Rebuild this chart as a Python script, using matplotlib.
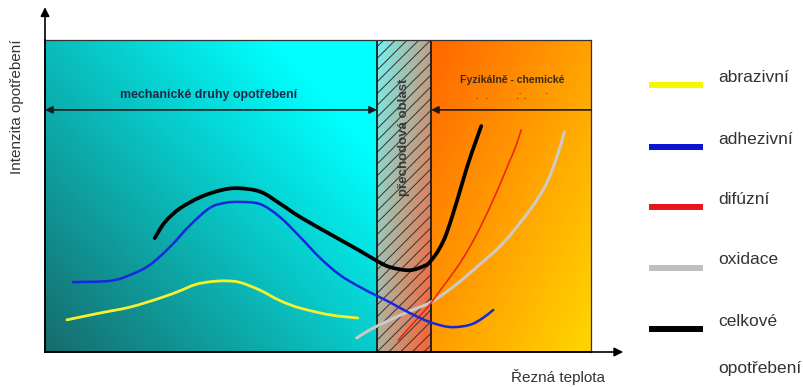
import numpy as np
import matplotlib
matplotlib.use("Agg")
import matplotlib.pyplot as plt
from matplotlib.colors import LinearSegmentedColormap
from matplotlib.patches import Rectangle, PathPatch
from matplotlib.path import Path
from matplotlib.lines import Line2D

plt.rcParams['font.family'] = ['Liberation Sans', 'DejaVu Sans']

# Temperature axis runs 0..100 over the panel, wear intensity 0..100
zone_mech_end = 60.8      # end of mechanical wear zone
zone_trans_end = 70.7     # end of transition zone

abraz_x = [4.0, 10.1, 15.6, 21.1, 24.7, 27.5, 30.2, 33.0, 35.7, 39.4, 43.0, 46.7, 52.2, 57.3]
abraz_y = [10.3, 12.5, 14.4, 17.3, 19.6, 21.6, 22.5, 22.8, 22.3, 19.8, 16.5, 14.1, 11.9, 10.9]

adhez_x = [5.1, 11.9, 15.6, 19.2, 22.9, 26.6, 30.2, 33.0, 35.7, 39.4, 43.0, 46.7, 50.4, 54.0,
           57.7, 60.8, 63.2, 66.8, 70.5, 74.2, 77.8, 80.2, 82.1]
adhez_y = [22.4, 22.8, 24.7, 27.9, 33.7, 40.7, 46.2, 47.8, 48.1, 47.4, 43.3, 36.9, 30.1, 24.7,
           20.8, 18.0, 15.9, 12.5, 9.6, 8.0, 8.7, 10.9, 13.5]

difuz_x = [64.7, 66.8, 70.1, 72.3, 75.5, 77.8, 80.0, 82.4, 84.8, 86.3, 87.2]
difuz_y = [3.8, 8.0, 14.4, 19.6, 27.2, 33.7, 41.0, 50.0, 59.9, 66.3, 71.2]

oxid_x = [57.1, 59.5, 63.2, 66.8, 70.7, 74.7, 77.8, 79.7, 83.9, 88.8, 91.9, 94.0, 95.1]
oxid_y = [4.5, 7.1, 10.3, 13.1, 16.0, 20.8, 25.3, 28.2, 34.9, 45.5, 54.2, 63.8, 70.5]

celk_x = [20.1, 22.0, 24.7, 28.4, 32.1, 35.2, 39.4, 43.0, 46.7, 52.2, 57.7, 60.8, 63.2, 66.8,
          69.6, 70.7, 72.2, 73.6, 75.5, 77.3, 78.8, 79.9]
celk_y = [36.5, 41.7, 46.0, 49.6, 51.8, 52.5, 51.4, 47.6, 43.3, 37.8, 32.4, 29.2, 27.2, 26.2,
          27.7, 29.3, 33.0, 38.3, 48.7, 59.3, 67.0, 72.4]

series_labels = ["abrazivní", "adhezivní", "difúzní", "oxidace", "celkové"]
series_colors = ["#f2f230", "#1428dc", "#f01e14", "#cfc9c4", "#000000"]
legend_colors = ["#f7f700", "#0a14d2", "#e8141e", "#bfbfbf", "#000000"]
series_widths = [2.0, 1.8, 1.1, 2.2, 2.7]
series_data = [(abraz_x, abraz_y), (adhez_x, adhez_y), (difuz_x, difuz_y),
               (oxid_x, oxid_y), (celk_x, celk_y)]
draw_order = [3, 2, 0, 1, 4]

W, H = 804, 387
fig = plt.figure(figsize=(W / 100, H / 100), dpi=100)
ax = fig.add_axes([45 / W, 35 / H, 546 / W, 312 / H])
ax.set_xlim(0, 100)
ax.set_ylim(0, 100)


def gradient(x0, x1, c0, c1, wx, wy, flip_y=False):
    n = 200
    xn, yn = np.meshgrid(np.linspace(0, 1, n), np.linspace(0, 1, n))
    yy = 1 - yn if flip_y else yn
    t = np.clip(wx * xn + wy * yy, 0, 1)
    cmap = LinearSegmentedColormap.from_list("g", [c0, c1])
    ax.imshow(t, cmap=cmap, extent=[x0, x1, 0, 100], origin="lower",
              aspect="auto", interpolation="bilinear", vmin=0, vmax=1, zorder=0)


def smooth_path(xs, ys):
    """Cubic Bezier path passing through every given point (Catmull-Rom tangents)."""
    p = np.column_stack([xs, ys]).astype(float)
    verts = [p[0]]
    codes = [Path.MOVETO]
    n = len(p)
    for i in range(n - 1):
        p0 = p[i - 1] if i > 0 else p[i]
        p3 = p[i + 2] if i + 2 < n else p[i + 1]
        c1 = p[i] + (p[i + 1] - p0) / 6.0
        c2 = p[i + 1] - (p3 - p[i]) / 6.0
        verts += [c1, c2, p[i + 1]]
        codes += [Path.CURVE4] * 3
    return Path(verts, codes)


# backgrounds of the three zones
gradient(0, zone_mech_end, (0.09, 0.42, 0.42), (0.0, 1.0, 1.0), 0.65, 0.55)
gradient(zone_mech_end, zone_trans_end, (0.45, 0.95, 0.95), (0.95, 0.42, 0.25), 0.6, 0.5, flip_y=True)
gradient(zone_trans_end, 100, (1.0, 0.40, 0.0), (1.0, 0.82, 0.0), 0.55, 0.5, flip_y=True)

# diagonal hatching of the transition zone
clip_rect = Rectangle((zone_mech_end, 0), zone_trans_end - zone_mech_end, 100,
                      transform=ax.transData, facecolor="none", edgecolor="none")
ax.add_patch(clip_rect)
slope = 1.75
step = 2.15
for k in range(-40, 10):
    x_start = zone_mech_end + k * step
    ln, = ax.plot([x_start, x_start + 100 / slope], [0, 100], color="#333333",
                  lw=0.7, zorder=1)
    ln.set_clip_path(clip_rect)

for xb in (zone_mech_end, zone_trans_end):
    ax.axvline(xb, color="#1a1a1a", lw=1.3, zorder=2)

# wear curves
for i in draw_order:
    xs, ys = series_data[i]
    ax.add_patch(PathPatch(smooth_path(xs, ys), facecolor="none",
                           edgecolor=series_colors[i], lw=series_widths[i],
                           capstyle="round", zorder=3))

# zone arrows and labels
arrow_y = 77.6
ax.annotate("", xy=(0, arrow_y), xytext=(zone_mech_end, arrow_y),
            arrowprops=dict(arrowstyle="<|-|>", color="#1a1a1a", lw=1.2,
                            mutation_scale=11, shrinkA=0, shrinkB=0), zorder=4)
ax.annotate("", xy=(zone_trans_end, arrow_y), xytext=(100, arrow_y),
            arrowprops=dict(arrowstyle="-|>", color="#1a1a1a", lw=1.2,
                            mutation_scale=11, shrinkA=0, shrinkB=0), zorder=4)
ax.text(29.9, 82.4, "mechanické druhy opotřebení", ha="center", va="center",
        fontsize=8.9, fontweight="bold", color="#1e2a4a", zorder=4)
ax.text(85.5, 87.2, "Fyzikálně - chemické", ha="center", va="center",
        fontsize=7.6, fontweight="bold", color="#3a2a1a", zorder=4)
ax.text(85.5, 81.6, ".   .            .\u02d9 .        \u02d9", ha="center", va="center",
        fontsize=6, fontweight="bold", color="#3a2a1a", zorder=4)
ax.text((zone_mech_end + zone_trans_end) / 2, 68.9, "přechodová oblast",
        ha="center", va="center", rotation=90, fontsize=9.5, fontweight="bold",
        color="#3a3a3a", zorder=4)

# axes with arrow heads
for s in ("top", "right"):
    ax.spines[s].set_color("#333333")
    ax.spines[s].set_linewidth(0.9)
for s in ("left", "bottom"):
    ax.spines[s].set_color("black")
    ax.spines[s].set_linewidth(1.2)
ax.set_xticks([])
ax.set_yticks([])
ax.annotate("", xy=(0, 110.5), xytext=(0, 0), annotation_clip=False,
            arrowprops=dict(arrowstyle="-|>", color="black", lw=1.2,
                            mutation_scale=13, shrinkA=0, shrinkB=0))
ax.annotate("", xy=(105.9, 0), xytext=(0, 0), annotation_clip=False,
            arrowprops=dict(arrowstyle="-|>", color="black", lw=1.2,
                            mutation_scale=13, shrinkA=0, shrinkB=0))

fig.text(17 / W, 1 - 106.5 / H, "Intenzita opotřebení", rotation=90, ha="center",
         va="center", fontsize=11, color="#333333")
fig.text(558 / W, 1 - 377 / H, "Řezná teplota", ha="center", va="center",
         fontsize=11, color="#333333")

# legend
legend_rows = [85, 147, 207, 268, 329]
for i, yl in enumerate(legend_rows):
    yf = 1 - yl / H
    fig.add_artist(Line2D([652 / W, 700 / W], [yf, yf], color=legend_colors[i],
                          lw=4.3, transform=fig.transFigure))
    fig.text(718 / W, 1 - (yl - 8) / H, series_labels[i], ha="left", va="center",
             fontsize=12.5, color="#333333")
fig.text(718 / W, 1 - 369 / H, "opotřebení", ha="left", va="center",
         fontsize=12.5, color="#333333")

fig.savefig("out.png", dpi=100)
